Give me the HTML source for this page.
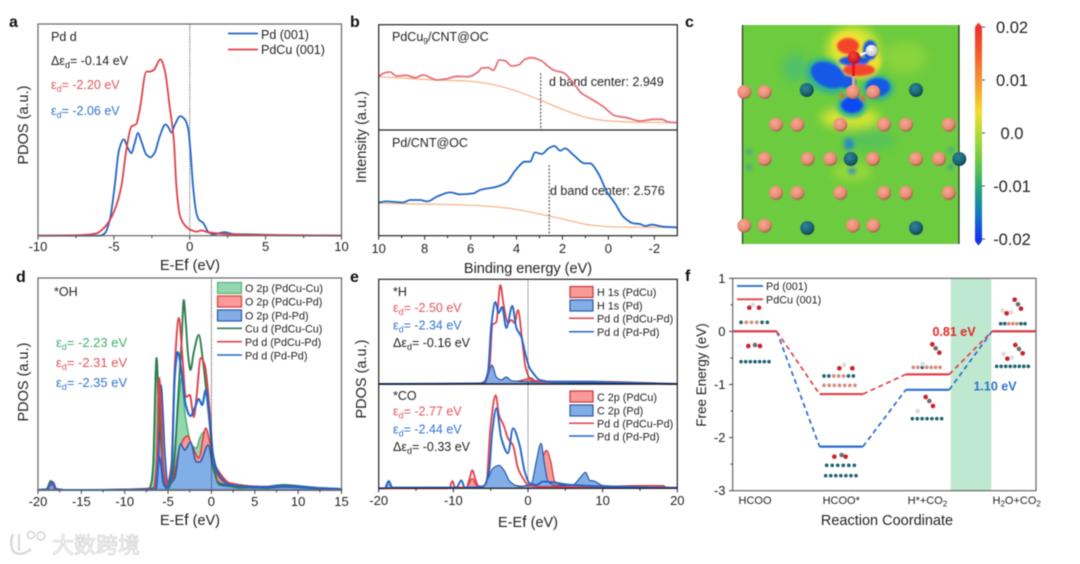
<!DOCTYPE html>
<html lang="en">
<head>
<meta charset="utf-8">
<title>PDOS and free energy figure</title>
<style>
html,body{margin:0;padding:0;background:#fff;width:1080px;height:564px;overflow:hidden}
svg{display:block;filter:blur(.45px)}
text{font-family:"Liberation Sans","Noto Sans CJK SC",sans-serif;fill:#222}
.tick{font-size:13px}
.axis{font-size:14.5px}
.note{font-size:12.5px}
.leg{font-size:10.8px}
.pl{font-size:16px;font-weight:bold;fill:#111}
.r{fill:#e2535a}.b{fill:#2f74cc}.g{fill:#3fae70}
</style>
</head>
<body>
<svg id="figure" width="1080" height="564" viewBox="0 0 1080 564" xmlns="http://www.w3.org/2000/svg">
<defs>
<radialGradient id="pink" cx="40%" cy="35%" r="70%"><stop offset="0" stop-color="#f8a892"/><stop offset=".65" stop-color="#e58a72"/><stop offset="1" stop-color="#8f5a48"/></radialGradient>
<radialGradient id="teal" cx="40%" cy="35%" r="70%"><stop offset="0" stop-color="#2f8596"/><stop offset=".65" stop-color="#1a6273"/><stop offset="1" stop-color="#0c3a48"/></radialGradient>
<radialGradient id="oxy" cx="40%" cy="35%" r="70%"><stop offset="0" stop-color="#ff4040"/><stop offset="1" stop-color="#b80c18"/></radialGradient>
<radialGradient id="hyd" cx="40%" cy="35%" r="70%"><stop offset="0" stop-color="#fff"/><stop offset="1" stop-color="#bbb"/></radialGradient>
<linearGradient id="jet" x1="0" y1="0" x2="0" y2="1">
<stop offset="0" stop-color="#f0302a"/><stop offset=".13" stop-color="#f4602e"/><stop offset=".28" stop-color="#f5a332"/><stop offset=".4" stop-color="#f2dd2e"/><stop offset=".52" stop-color="#a6d83a"/><stop offset=".66" stop-color="#5cc24e"/><stop offset=".78" stop-color="#1f9c86"/><stop offset=".88" stop-color="#1476c8"/><stop offset="1" stop-color="#1030f0"/>
</linearGradient>
<filter id="crisp" x="-30%" y="-30%" width="160%" height="160%"><feGaussianBlur stdDeviation="1"/></filter>
<filter id="soft" x="-40%" y="-40%" width="180%" height="180%"><feGaussianBlur stdDeviation="2.2"/></filter>
<filter id="softer" x="-40%" y="-40%" width="180%" height="180%"><feGaussianBlur stdDeviation="5"/></filter>
<clipPath id="mapclip"><rect x="742" y="25" width="217" height="219"/></clipPath>
</defs>

<g id="panel-a">
<text class="pl" x="9" y="27">a</text>
<text class="axis" transform="translate(28,125) rotate(-90)" text-anchor="middle">PDOS (a.u.)</text>
<text class="axis" x="190" y="270" text-anchor="middle">E-E<tspan font-size="16">f</tspan> (eV)</text>
<text class="note" x="51" y="41">Pd d</text>
<text class="note" x="51" y="65">Δε<tspan font-size="9" dy="3">d</tspan><tspan dy="-3">= -0.14 eV</tspan></text>
<text class="note r" x="51" y="89">ε<tspan font-size="9" dy="3">d</tspan><tspan dy="-3">= -2.20 eV</tspan></text>
<text class="note b" x="51" y="115">ε<tspan font-size="9" dy="3">d</tspan><tspan dy="-3">= -2.06 eV</tspan></text>
<line x1="228" x2="258" y1="33.5" y2="33.5" stroke="#2266c4" stroke-width="1.8"/>
<text class="note" x="261" y="39">Pd (001)</text>
<line x1="228" x2="258" y1="49.5" y2="49.5" stroke="#e04048" stroke-width="1.8"/>
<text class="note" x="261" y="54">PdCu (001)</text>
</g>

<g id="panel-b">
<text class="pl" x="350" y="27">b</text>
<text class="axis" transform="translate(366,137) rotate(-90)" text-anchor="middle">Intensity (a.u.)</text>
<text class="axis" x="528" y="273" text-anchor="middle">Binding energy (eV)</text>
<text class="note" x="392" y="41">PdCu<tspan font-size="8.5" dy="3">9</tspan><tspan dy="-3">/CNT@OC</tspan></text>
<text class="note" x="392" y="147">Pd/CNT@OC</text>
<text class="note" x="549" y="86">d band center: 2.949</text>
<text class="note" x="550" y="195">d band center: 2.576</text>
</g>

<g id="panel-c">
<text class="pl" x="685" y="27">c</text>
<rect x="742" y="25" width="217" height="219" fill="#6ccb3e"/>
<g clip-path="url(#mapclip)">
<g filter="url(#softer)">
<ellipse cx="853" cy="50" rx="26" ry="24" fill="#d8e630"/>
<ellipse cx="850" cy="118" rx="30" ry="10" fill="#d8e632"/>
<ellipse cx="905" cy="58" rx="22" ry="16" fill="#8ad43c"/>
<ellipse cx="852" cy="172" rx="20" ry="9" fill="#9ad83a"/>
<ellipse cx="795" cy="68" rx="12" ry="14" fill="#4fc06a"/>
<ellipse cx="870" cy="140" rx="25" ry="9" fill="#55c25a"/>
</g>
<g filter="url(#soft)">
<ellipse cx="827" cy="76" rx="23" ry="17" transform="rotate(25 827 76)" fill="#34b48c"/>
<ellipse cx="878" cy="88" rx="16" ry="13" fill="#34b48c"/>
<ellipse cx="852" cy="106" rx="15" ry="12" fill="#34b48c"/>
<ellipse cx="860" cy="62" rx="21" ry="16" fill="#f0e030"/>
<ellipse cx="848" cy="44" rx="15" ry="12" fill="#f0e030"/>
<ellipse cx="849" cy="144" rx="5" ry="6" fill="#2a86c8"/>
<ellipse cx="852" cy="171" rx="4" ry="3" fill="#2a86c8"/>
<ellipse cx="749" cy="152" rx="2.5" ry="3" fill="#3a9aa0"/>
<ellipse cx="749" cy="167" rx="2.5" ry="3" fill="#3a9aa0"/>
<ellipse cx="951" cy="150" rx="2.5" ry="3" fill="#3a9aa0"/>
<ellipse cx="951" cy="167" rx="2.5" ry="3" fill="#3a9aa0"/>
</g>
<g filter="url(#crisp)">
<ellipse cx="828" cy="75" rx="18" ry="12" transform="rotate(25 828 75)" fill="#1458e8"/>
<ellipse cx="846" cy="82" rx="10" ry="6" fill="#1458e8"/>
<ellipse cx="878" cy="87" rx="12" ry="9" fill="#1458e8"/>
<ellipse cx="852" cy="105" rx="11" ry="8" fill="#1048f0"/>
<ellipse cx="854" cy="61" rx="15" ry="5" fill="#1458e8"/>
<ellipse cx="870" cy="50" rx="7" ry="10" fill="#1458e8"/>
<ellipse cx="848" cy="46" rx="11" ry="8" fill="#f4452c"/>
<ellipse cx="859" cy="70" rx="16" ry="6" fill="#f4452c"/>
<ellipse cx="842" cy="96" rx="2.2" ry="3" fill="#f0682c"/>
<ellipse cx="863" cy="98" rx="2.2" ry="3" fill="#f0682c"/>
</g>
</g>
<line x1="742.5" x2="742.5" y1="25" y2="244" stroke="#223322" stroke-width="1.2"/>
<line x1="959" x2="959" y1="25" y2="244" stroke="#223322" stroke-width="1.2"/>
<g id="atoms"></g>
<rect x="852" y="62" width="3" height="14" fill="#e01828"/>
<rect x="852" y="76" width="3" height="12" fill="#e8a0a0"/>
<line x1="854" y1="57" x2="871" y2="51" stroke="#fff" stroke-width="2"/>
<circle cx="854" cy="57.5" r="6.3" fill="url(#oxy)"/>
<circle cx="871.5" cy="50.5" r="5.8" fill="url(#hyd)"/>
<rect x="975" y="27" width="7" height="214" fill="url(#jet)"/>
<polygon points="975,27 978.5,22.5 982,27" fill="#f0302a"/>
<polygon points="975,241 978.5,245.5 982,241" fill="#1030f0"/>
<g id="colorbar-ticks"></g>
</g>

<g id="panel-d">
<text class="pl" x="16" y="282">d</text>
<text class="axis" transform="translate(28,382) rotate(-90)" text-anchor="middle">PDOS (a.u.)</text>
<text class="axis" x="190" y="525" text-anchor="middle">E-E<tspan font-size="16">f</tspan> (eV)</text>
<text class="note" x="54" y="296">*OH</text>
<text class="axis g" x="56" y="347" style="font-size:13px">ε<tspan font-size="9" dy="3">d</tspan><tspan dy="-3">= -2.23 eV</tspan></text>
<text class="axis r" x="56" y="367" style="font-size:13px">ε<tspan font-size="9" dy="3">d</tspan><tspan dy="-3">= -2.31 eV</tspan></text>
<text class="axis b" x="56" y="387" style="font-size:13px">ε<tspan font-size="9" dy="3">d</tspan><tspan dy="-3">= -2.35 eV</tspan></text>
<rect x="217.5" y="282.5" width="24" height="11" fill="#93d7ae" stroke="#52b67e" stroke-width="1.2"/>
<rect x="217.5" y="296" width="24" height="11" fill="#f89a9a" stroke="#df3a3a" stroke-width="1.2"/>
<rect x="217.5" y="310" width="24" height="11" fill="#82aee8" stroke="#2a58a8" stroke-width="1.2"/>
<line x1="217" x2="242" y1="328.3" y2="328.3" stroke="#2e7d50" stroke-width="1.6"/>
<line x1="217" x2="242" y1="341.7" y2="341.7" stroke="#e2404a" stroke-width="1.6"/>
<line x1="217" x2="242" y1="355" y2="355" stroke="#2266cc" stroke-width="1.6"/>
<text class="leg" x="245" y="292">O 2p (PdCu-Cu)</text>
<text class="leg" x="245" y="305.5">O 2p (PdCu-Pd)</text>
<text class="leg" x="245" y="319.5">O 2p (Pd-Pd)</text>
<text class="leg" x="245" y="332.5">Cu d (PdCu-Cu)</text>
<text class="leg" x="245" y="346">Pd d (PdCu-Pd)</text>
<text class="leg" x="245" y="359.5">Pd d (Pd-Pd)</text>
</g>

<g id="panel-e">
<text class="pl" x="350" y="282">e</text>
<text class="axis" transform="translate(366,379) rotate(-90)" text-anchor="middle">PDOS (a.u.)</text>
<text class="axis" x="528" y="527" text-anchor="middle">E-E<tspan font-size="16">f</tspan> (eV)</text>
<text class="note" x="393" y="296">*H</text>
<text class="note r" x="393" y="312">ε<tspan font-size="9" dy="3">d</tspan><tspan dy="-3">= -2.50 eV</tspan></text>
<text class="note b" x="393" y="329.5">ε<tspan font-size="9" dy="3">d</tspan><tspan dy="-3">= -2.34 eV</tspan></text>
<text class="note" x="393" y="347">Δε<tspan font-size="9" dy="3">d</tspan><tspan dy="-3">= -0.16 eV</tspan></text>
<text class="note" x="393" y="400">*CO</text>
<text class="note r" x="393" y="415.5">ε<tspan font-size="9" dy="3">d</tspan><tspan dy="-3">= -2.77 eV</tspan></text>
<text class="note b" x="393" y="433.5">ε<tspan font-size="9" dy="3">d</tspan><tspan dy="-3">= -2.44 eV</tspan></text>
<text class="note" x="393" y="451">Δε<tspan font-size="9" dy="3">d</tspan><tspan dy="-3">= -0.33 eV</tspan></text>
<rect x="570" y="286.5" width="23" height="11" fill="#f89a9a" stroke="#c93636" stroke-width="1.2"/>
<rect x="570" y="300" width="23" height="11" fill="#82aee8" stroke="#2a58a8" stroke-width="1.2"/>
<line x1="569" x2="594" y1="318.3" y2="318.3" stroke="#e2404a" stroke-width="1.5"/>
<line x1="569" x2="594" y1="331.7" y2="331.7" stroke="#2266cc" stroke-width="1.5"/>
<rect x="570" y="391" width="23" height="11" fill="#f89a9a" stroke="#c93636" stroke-width="1.2"/>
<rect x="570" y="405" width="23" height="11" fill="#82aee8" stroke="#2a58a8" stroke-width="1.2"/>
<line x1="569" x2="594" y1="423.3" y2="423.3" stroke="#e2404a" stroke-width="1.5"/>
<line x1="569" x2="594" y1="436" y2="436" stroke="#2266cc" stroke-width="1.5"/>
<text class="leg" x="597" y="296">H 1s (PdCu)</text>
<text class="leg" x="597" y="309.5">H 1s (Pd)</text>
<text class="leg" x="597" y="322.5">Pd d (PdCu-Pd)</text>
<text class="leg" x="597" y="336">Pd d (Pd-Pd)</text>
<text class="leg" x="597" y="401">C 2p (PdCu)</text>
<text class="leg" x="597" y="414.5">C 2p (Pd)</text>
<text class="leg" x="597" y="427.5">Pd d (PdCu-Pd)</text>
<text class="leg" x="597" y="440.5">Pd d (Pd-Pd)</text>
</g>

<g id="panel-f">
<text class="pl" x="685" y="281">f</text>
<rect x="950.7" y="278.5" width="40.6" height="212" fill="#bfe8d0"/>
<text class="axis" transform="translate(706,375) rotate(-90)" text-anchor="middle" style="font-size:13.5px">Free Energy (eV)</text>
<text class="axis" x="887" y="525" text-anchor="middle">Reaction Coordinate</text>
<line x1="737" x2="763" y1="286" y2="286" stroke="#2266cc" stroke-width="1.8"/>
<line x1="737" x2="763" y1="299.3" y2="299.3" stroke="#e2404a" stroke-width="1.8"/>
<text class="leg" x="766" y="290">Pd (001)</text>
<text class="leg" x="766" y="303.5">PdCu (001)</text>
<text x="954" y="336" text-anchor="middle" font-size="12.5" font-weight="bold" style="fill:#e0272c">0.81 eV</text>
<text x="995" y="390.5" text-anchor="middle" font-size="12.5" font-weight="bold" style="fill:#2f74cc">1.10 eV</text>
<g id="molecules" transform="translate(680,265) scale(.33333)"></g>
</g>

<g id="watermark">
<path d="M13 534 Q9 545 14 552 Q22 557 31 549" fill="none" stroke="#d8d8d8" stroke-width="2.4"/>
<path d="M19 534 L19 551" fill="none" stroke="#d8d8d8" stroke-width="2"/>
<circle cx="31" cy="535" r="3.6" fill="none" stroke="#d2d2d2" stroke-width="1.4"/>
<circle cx="41" cy="536" r="4" fill="none" stroke="#d2d2d2" stroke-width="1.4"/>
<text x="52" y="553" font-size="22" style="fill:#fbfbfb;stroke:#cfcfcf;stroke-width:.7">大数跨境</text>
</g>

<g id="marks"></g>
</svg>

<script>
// ---------- panel a ----------
const aTicks = [-10, -5, 0, 5, 10];
const aPdE = [-10,-5.93,-5.6,-5.27,-4.95,-4.66,-4.35,-4.07,-3.85,-3.63,-3.41,-3.19,-2.86,-2.59,-2.31,-1.98,-1.6,-1.43,-1.21,-.99,-.62,-.33,-.11,.04,.22,.44,.62,.88,1.21,1.54,2.31,2.86,4.18,6.15,10];
const aPdV = [0,0,1.1,7.4,23.2,40.5,45.5,41.3,39,43.7,48.5,44.6,38.3,37,39.2,46.9,52.6,51.5,48.7,52.3,56.5,55,50.7,40.5,23.2,10.6,7.4,6.1,1.9,.6,1.7,.8,.6,.2,0];
const aCuE = [-10,-7.03,-6.15,-5.49,-4.95,-4.51,-4.18,-3.85,-3.52,-3.3,-2.86,-2.64,-2.37,-1.93,-1.65,-1.32,-1.05,-.88,-.66,-.33,0,.44,.77,1.21,2.86,10];
const aCuV = [0,.3,1.1,5,12.1,23.2,40.5,51.5,52.8,59.4,77.5,77.5,78.3,83.3,78.3,60.9,45.2,23.2,9.8,5,3,1.9,2.5,1.6,.6,.1];

// ---------- panel b ----------
const bTicks = [10, 8, 6, 4, 2, 0, -2];
const bCenters = [2.949, 2.576];
const bCenterTops = [56.7, 70.7];
const bTopE = [10,9.8,9.51,9.22,8.78,8.42,8.06,7.69,7.47,7.04,6.6,6.1,5.66,5.52,5.23,5.01,4.75,4.5,4.21,3.92,3.63,3.34,2.9,2.61,2.32,1.96,1.52,1.16,.8,.22,-.29,-.8,-1.38,-1.96,-2.32,-2.61,-3];
const bTopV = [53.3,56.7,58,54,54.7,52.3,55,51.7,50,51.3,53.7,53.3,58.3,62,62.3,59.7,70,69.3,64,65,70.7,72.3,69,63.3,59.3,57.3,46.7,36.7,31.7,23.3,14.3,12.3,9,10.7,10.7,8,7.3];
const bTopBgE = [10,8.78,7.55,6.17,5.15,4.14,2.98,1.81,.8,-.22,-1.38,-3];
const bTopBgV = [53.3,51.7,50,49,46,40,30,19,11.7,8.7,7.7,7.3];
const bBotE = [10,9.65,9.29,8.93,8.64,8.2,7.88,7.47,6.89,6.46,5.88,5.59,4.86,4.43,4.06,3.63,3.41,3.19,2.9,2.61,2.35,2.1,1.89,1.52,1.02,.8,.44,.07,-.29,-.65,-1.09,-1.38,-1.6,-1.89,-2.39,-3];
const bBotV = [33.3,34.3,33.7,33.3,35.7,35.7,34.3,39,43.3,41.3,42.3,45.7,49,53.3,65,74,74,83.3,81.7,87.3,89.7,85,87.3,80.7,72.3,72.3,62.3,44,32.3,19,12.3,11.7,9.7,11,9,8.3];
const bBotBgE = [10,7.33,5.88,4.43,2.98,1.81,.8,-.36,-3];
const bBotBgV = [32.3,31.3,30.3,27.7,21.7,15.7,10.7,8.7,8.3];

// ---------- panel c colorbar ----------
const cbarLabels = ['0.02', '0.01', '0.0', '-0.01', '-0.02'];
const cbarValues = [0.02, 0.01, 0, -0.01, -0.02];

// ---------- panel d ----------
const dTicks = [-20, -15, -10, -5, 0, 5, 10, 15];
const dO2pCuE = [-20,-19,-18.54,-18.04,-17,-7.29,-6.91,-6.72,-6.33,-6.1,-5.9,-5.57,-4.99,-4.41,-3.84,-3.45,-3.07,-2.69,-2.3,-1.73,-1.34,-.88,-.38,.19,.96,6.33,8.25,12.1,15];
const dO2pCuV = [0,1,9,1.5,0,0,7,22,132,90,58,12,2,25,82,112,78,58,45,42,52,58,45,25,8,3,5,2,.5];
const dO2pPdCuE = [-20,-19,-18.5,-18,-17,-6.72,-6.33,-6.03,-5.8,-5.57,-5.18,-4.41,-3.65,-2.8,-2.11,-1.46,-.65,-.12,.58,1.73,6.33,8.25,12.1,15];
const dO2pPdCuV = [0,1,7,1.5,0,1.7,25,112,92,38,7,12,43,54,42,32,62,45,17,7,3,4,2,.5];
const dO2pPdE = [-20,-19,-18.3,-17.9,-17,-6.53,-6.14,-5.8,-5.57,-5.37,-4.99,-4.22,-3.57,-3.07,-2.42,-1.73,-1.34,-.38,.19,.96,6.33,8.25,12.1,15];
const dO2pPdV = [0,.5,7,1,0,1.7,25,105,75,38,5,12,46,40,48,28,28,45,22,5,2,3,1.5,.5];
const dCuDE = [-20,-19,-18.54,-18.04,-17,-7.29,-6.91,-6.72,-6.33,-6.1,-5.83,-5.37,-4.99,-4.41,-3.84,-3.45,-3.19,-2.96,-2.69,-2.42,-2.03,-1.46,-.96,-.58,-.19,.19,.77,1.73,3.26,6.33,8.25,12.1,14.93];
const dCuDV = [0,1,9,1.5,0,0,8,25,132,92,52,8,2,18,92,148,190,168,135,120,138,155,128,98,65,28,8,5,2.3,3.3,5,2.3,1];
const dPdCuDE = [-20,-19,-18.5,-18,-17,-6.53,-6.26,-6.03,-5.8,-5.57,-5.18,-4.61,-4.22,-3.76,-3.34,-2.96,-2.5,-2.03,-1.73,-1.23,-.77,-.19,.19,.96,2.11,6.33,8.25,12.1,15];
const dPdCuDV = [0,.5,7,1,0,1,38,112,75,25,5,25,125,172,132,93,95,73,92,132,125,78,32,17,7,3.3,4,2,.5];
const dPdDE = [-20,-19,-18.3,-17.9,-17,-6.41,-6.03,-5.8,-5.57,-5.18,-4.61,-4.22,-3.88,-3.45,-2.96,-2.42,-1.92,-1.46,-1.07,-.65,-.19,.19,.77,2.11,6.33,8.25,12.1,15];
const dPdDV = [0,.5,8,1,0,.5,33,25,8,2,18,115,138,118,85,74,82,91,85,100,68,35,17,5,3,4,2,1];

// ---------- panel e ----------
const eTicks = [-20, -10, 0, 10, 20];
const eHPdCuE = [-20,-6.47,-5.58,-5.13,-4.78,-4.24,-3.71,-3.26,-2.68,-2.23,-1.79,-1.34,-.76,-.31,.45,2.46,8.71,20];
const eHPdCuV = [0,.7,4,19,59,62,99,79,61,64,61,74,42,16,4,2.3,2.3,0];
const eHPdE = [-20,-6.03,-5.36,-4.91,-4.38,-3.93,-3.48,-2.9,-2.1,-1.56,-.89,-.31,.22,.67,1.56,3.35,8.71,10.5,20];
const eHPdV = [0,.7,12,59,82,71,77,56,78,56,47,29,16,11,4,2.3,2.3,1.7,0];
const eH1sCuE = [-20,-5.8,-5.13,-4.69,-4.15,-3.35,-2.01,-.67,.45,1.12,20];
const eH1sCuV = [0,.7,7,14,4,3.3,2.3,4,6,2.3,0];
const eH1sPdE = [-20,-5.8,-5.27,-4.82,-4.24,-3.57,-2.9,-2.23,-.22,20];
const eH1sPdV = [0,.7,11,19,7,4,7,3.3,2.3,0];
const eCOPdCuE = [-20,-10.94,-10.49,-10.13,-9.78,-8.26,-7.81,-7.46,-7.01,-6.56,-5.58,-5.04,-4.33,-3.88,-3.26,-2.68,-2.01,-1.34,-.67,0,1.56,20];
const eCOPdCuV = [0,0,.7,7.3,1,.7,10,18,8,.7,5,60,93,73,63,50,43,20,10,3.3,1.7,.7];
const eCOPdE = [-20,-19.2,-18.66,-18.17,-9.6,-8.93,-8.48,-6.03,-5.22,-4.78,-4.24,-3.57,-2.68,-2.01,-1.12,-.45,.22,1.12,2.01,6.03,10.5,20];
const eCOPdV = [0,0,7.3,.7,.7,8,.7,1.7,17,57,80,50,35,60,43,17,5,3.3,6.7,3.3,1.7,.3];
const eC2pCuE = [-20,-8.26,-7.46,-6.92,-6.03,-5.13,-3.79,-2.9,-.67,.45,1.12,1.79,2.46,3.04,3.57,4.24,5.58,10.49,14.96,18.08,18.75,20];
const eC2pCuV = [0,.7,10,3.3,2,10,8,5,2,3.3,10,27,38,27,7,4,2.7,2,2.7,2.7,0,0];
const eC2pPdE = [-20,-19.2,-18.66,-18.17,-6.03,-5.36,-4.69,-3.88,-3.13,-2.46,-1.12,.45,1.12,1.74,2.23,2.68,3.79,6.03,6.92,7.72,8.26,8.93,10.04,20];
const eC2pPdV = [0,0,7.3,.7,1.3,10,20,23,17,7,1.7,5,27,45,23,7,2.7,3.3,10,16,8,7,2.7,.7];

// ---------- panel f ----------
const fCategories = ['HCOO', 'HCOO*', 'H*+CO', 'H'];
const fTicks = [1, 0, -1, -2, -3];
const fPd = [0, -2.17, -1.1, 0];
const fPdCu = [0, -1.18, -0.81, 0];

// ---------- helpers ----------
const NS = 'http://www.w3.org/2000/svg';
const marks = document.getElementById('marks');
function linear(d0, d1, r0, r1) { return v => r0 + (v - d0) / (d1 - d0) * (r1 - r0); }
function make(tag, attrs, parent) {
  const el = document.createElementNS(NS, tag);
  for (const k in attrs) el.setAttribute(k, attrs[k]);
  (parent || marks).appendChild(el);
  return el;
}
// monotone cubic path so sparse stretches never overshoot
function curve(es, vs, sx, sy) {
  const p = es.map((e, i) => [sx(e), sy(vs[i])]);
  const n = p.length, h = [], s = [], m = [];
  for (let i = 0; i < n - 1; i++) {
    h[i] = p[i + 1][0] - p[i][0];
    s[i] = (p[i + 1][1] - p[i][1]) / h[i];
  }
  m[0] = s[0];
  m[n - 1] = s[n - 2];
  for (let i = 1; i < n - 1; i++) {
    if (s[i - 1] * s[i] <= 0) m[i] = 0;
    else {
      const w1 = 2 * h[i] + h[i - 1], w2 = h[i] + 2 * h[i - 1];
      m[i] = (w1 + w2) / (w1 / s[i - 1] + w2 / s[i]);
    }
  }
  let d = 'M' + p[0][0].toFixed(2) + ' ' + p[0][1].toFixed(2);
  for (let i = 0; i < n - 1; i++) {
    const t = h[i] / 3;
    d += 'C' + (p[i][0] + t).toFixed(2) + ' ' + (p[i][1] + m[i] * t).toFixed(2) + ' ' + (p[i + 1][0] - t).toFixed(2) + ' ' + (p[i + 1][1] - m[i + 1] * t).toFixed(2) + ' ' + p[i + 1][0].toFixed(2) + ' ' + p[i + 1][1].toFixed(2);
  }
  return d;
}
function series(name, es, vs, sx, sy, color, width) {
  const el = make('path', { d: curve(es, vs, sx, sy), fill: 'none', stroke: color, 'stroke-width': width, 'stroke-linejoin': 'round' });
  
  
}
function area(name, es, vs, sx, sy, fill, stroke, width) {
  const base = sy(0);
  const d = curve(es, vs, sx, sy) + 'L' + sx(es[es.length - 1]).toFixed(2) + ' ' + base + 'L' + sx(es[0]).toFixed(2) + ' ' + base + 'Z';
  const el = make('path', { d: d, fill: fill, stroke: stroke, 'stroke-width': width, 'stroke-linejoin': 'round' });
  
  
}
function frame(name, x0, y0, x1, y1, color) {
  const el = make('rect', { x: x0, y: y0, width: x1 - x0, height: y1 - y0, fill: 'none', stroke: color, 'stroke-width': 1.2 });
  
  
}
function hRule(name, x0, x1, y, color) {
  const el = make('line', { x1: x0, x2: x1, y1: y, y2: y, stroke: color, 'stroke-width': 1.2 });
  
  
}
function zeroLine(name, x, y0, y1, color, dash, width) {
  const el = make('line', { x1: x, x2: x, y1: y0, y2: y1, stroke: color, 'stroke-width': width, 'stroke-dasharray': dash });
  
  
}
function xAxis(name, ticks, sx, y, color, labelY) {
  ticks.forEach((t, i) => {
    const tl = make('line', { x1: sx(t), x2: sx(t), y1: y, y2: y + 4, stroke: color, 'stroke-width': 1 });
    
    
    const lab = make('text', { x: sx(t), y: labelY, 'text-anchor': 'middle', class: 'tick' });
    
    
    lab.textContent = String(t);
    if (i < ticks.length - 1) {
      const m = (t + ticks[i + 1]) / 2;
      const ml = make('line', { x1: sx(m), x2: sx(m), y1: y, y2: y + 2.5, stroke: color, 'stroke-width': 1 });
      
      
    }
  });
}

// ---------- panel a drawing ----------
const ax = linear(-10, 10, 38, 341.5), ay = linear(0, 100, 235.7, 24);
zeroLine('fermi-line-a', ax(0), 24, 235.7, '#555', '1.2 1.2', 1);
series('series-pd-001', aPdE, aPdV, ax, ay, '#2266c4', 1.8);
series('series-pdcu-001', aCuE, aCuV, ax, ay, '#e04048', 1.8);
frame('plot-frame-a', 38, 24, 341.5, 235.7, '#666');
xAxis('x-axis-a', aTicks, ax, 235.7, '#444', 251);

// ---------- panel b drawing ----------
const bx = linear(10, -3, 378.7, 677.3);
const bTopY = linear(0, 105, 130, 25), bBotY = linear(0, 106, 235.7, 129.7);
series('background-pdcu', bTopBgE, bTopBgV, bx, bTopY, '#f6b78e', 1.3);
series('spectrum-pdcu', bTopE, bTopV, bx, bTopY, '#e6717a', 1.8);
series('background-pd', bBotBgE, bBotBgV, bx, bBotY, '#f6b78e', 1.3);
series('spectrum-pd', bBotE, bBotV, bx, bBotY, '#2266c4', 1.8);
zeroLine('d-band-center-line-pdcu', bx(bCenters[0]), bTopY(bCenterTops[0]), bTopY(0), '#555', '2 1.5', 1.2);
zeroLine('d-band-center-line-pd', bx(bCenters[1]), bBotY(bCenterTops[1]), bBotY(0), '#555', '2 1.5', 1.2);
frame('plot-frame-b', 378.7, 24.7, 677.3, 235.7, '#222');
hRule('panel-divider-b', 378.7, 677.3, 130, '#222');
xAxis('x-axis-b', bTicks, bx, 235.7, '#222', 253);

// ---------- panel c extras ----------
const atomGroup = document.getElementById('atoms');
const pinkRows = [[92, [744.3, 764.7, 853, 873.3]], [124.7, [776, 797.3, 840.3, 884, 906, 948.7]], [159, [764.7, 807.7, 830.3, 873, 916, 939]], [193, [776, 797.3, 840.3, 884, 906, 948.7]], [225.7, [744.3, 764.7, 853, 873.3]]];
const tealAtoms = [[806.7, 90], [916, 90], [850.7, 159], [959.3, 159], [807.3, 228], [916, 228]];
pinkRows.forEach(row => row[1].forEach(x => {
  const c = make('circle', { cx: x, cy: row[0], r: 7, fill: 'url(#pink)' }, atomGroup);
  
  
}));
tealAtoms.forEach(p => {
  const c = make('circle', { cx: p[0], cy: p[1], r: 7, fill: 'url(#teal)' }, atomGroup);
  
  
});
const cbarY = linear(0.02, -0.02, 27, 239), cbarTicks = document.getElementById('colorbar-ticks');
cbarValues.forEach((v, i) => {
  const t = make('line', { x1: 982, x2: 985, y1: cbarY(v), y2: cbarY(v), stroke: '#555', 'stroke-width': 1 }, cbarTicks);
  
  
  const lab = make('text', { x: 1012, y: cbarY(v) + 6, 'text-anchor': 'middle', 'font-size': 16.5 }, cbarTicks);
  
  
  lab.textContent = cbarLabels[i];
});

// ---------- panel d drawing ----------
const dx = linear(-20, 15, 38, 341.5), dy = linear(0, 212, 490, 278);
area('fill-o2p-pdcu-cu', dO2pCuE, dO2pCuV, dx, dy, '#93d7ae', '#52b67e', 1.6);
area('fill-o2p-pdcu-pd', dO2pPdCuE, dO2pPdCuV, dx, dy, '#f89a9a', '#df3a3a', 1.5);
area('fill-o2p-pd-pd', dO2pPdE, dO2pPdV, dx, dy, '#82aee8', '#2a58a8', 1.5);
series('line-cu-d', dCuDE, dCuDV, dx, dy, '#2e7d50', 1.9);
series('line-pd-d-pdcu', dPdCuDE, dPdCuDV, dx, dy, '#e2404a', 1.9);
series('line-pd-d-pd', dPdDE, dPdDV, dx, dy, '#2266cc', 2.1);
zeroLine('fermi-line-d', dx(0), 278, 490, '#222', '1 1.2', 1);
frame('plot-frame-d', 38, 278, 341.5, 490, '#666');
xAxis('x-axis-d', dTicks, dx, 490, '#444', 506);

// ---------- panel e drawing ----------
const ex = linear(-20, 20, 378.7, 677.3);
const eTopY = linear(0, 105, 384, 279), eBotY = linear(0, 105, 488.3, 383.3);
area('fill-h1s-pdcu', eH1sCuE, eH1sCuV, ex, eTopY, '#f89a9a', '#c93636', 1.2);
area('fill-h1s-pd', eH1sPdE, eH1sPdV, ex, eTopY, '#82aee8', '#2a58a8', 1.2);
series('line-h-pd-d-pdcu', eHPdCuE, eHPdCuV, ex, eTopY, '#e2404a', 1.8);
series('line-h-pd-d-pd', eHPdE, eHPdV, ex, eTopY, '#2266cc', 1.9);
area('fill-c2p-pdcu', eC2pCuE, eC2pCuV, ex, eBotY, '#f89a9a', '#c93636', 1.2);
area('fill-c2p-pd', eC2pPdE, eC2pPdV, ex, eBotY, '#82aee8', '#2a58a8', 1.2);
series('line-co-pd-d-pdcu', eCOPdCuE, eCOPdCuV, ex, eBotY, '#e2404a', 1.8);
series('line-co-pd-d-pd', eCOPdE, eCOPdV, ex, eBotY, '#2266cc', 1.9);
zeroLine('fermi-line-e', ex(0), 279.3, 488.3, '#444', '1 1.2', 1);
frame('plot-frame-e', 378.7, 279.3, 677.3, 488.3, '#222');
hRule('panel-divider-e', 378.7, 677.3, 384, '#111');
xAxis('x-axis-e', eTicks, ex, 488.3, '#222', 505);

// ---------- panel f drawing ----------
const fx = linear(0, 3, 755, 1013.7), fy = linear(1, -3, 278.3, 490.7), fHalf = 21.7;
function levels(prefix, values, color) {
  values.forEach((v, i) => {
    if (i < values.length - 1) {
      const c = make('line', { x1: fx(i) + fHalf, y1: fy(v), x2: fx(i + 1) - fHalf, y2: fy(values[i + 1]), stroke: color, 'stroke-width': 1.7, 'stroke-dasharray': '5 3.5' });
      
      
    }
  });
  values.forEach((v, i) => {
    const l = make('line', { x1: fx(i) - fHalf, x2: fx(i) + fHalf, y1: fy(v), y2: fy(v), stroke: color, 'stroke-width': 2.2 });
    
    
  });
}
levels('pd', fPd, '#2a6ccb');
levels('pdcu', fPdCu, '#e2404a');
frame('plot-frame-f', 732.7, 278.3, 1036, 490.7, '#666');
fTicks.forEach((t, i) => {
  const tl = make('line', { x1: 729, x2: 732.7, y1: fy(t), y2: fy(t), stroke: '#444', 'stroke-width': 1 });
  
  
  const lab = make('text', { x: 725.5, y: fy(t) + 4.5, 'text-anchor': 'end', class: 'tick' });
  
  
  lab.textContent = String(t);
  if (i < fTicks.length - 1) {
    const ml = make('line', { x1: 730.5, x2: 732.7, y1: fy(t - .5), y2: fy(t - .5), stroke: '#444', 'stroke-width': 1 });
    
    
  }
});
fCategories.forEach((c, i) => {
  const lab = make('text', { x: fx(i) + (i === 3 ? 3 : 0), y: 504, 'text-anchor': 'middle', 'font-size': 11 });
  
  
  lab.textContent = c;
  if (i === 2) {
    const s = make('tspan', { 'font-size': 8, dy: 2.5 }, lab);
    s.textContent = '2';
  }
  if (i === 3) {
    const s1 = make('tspan', { 'font-size': 8, dy: 2.5 }, lab);
    s1.textContent = '2';
    const m = make('tspan', { dy: -2.5 }, lab);
    m.textContent = 'O+CO';
    const s2 = make('tspan', { 'font-size': 8, dy: 2.5 }, lab);
    s2.textContent = '2';
  }
});

// ---------- panel f structure sketches ----------
const mol = document.getElementById('molecules');
const slabRows = [
  [172, 183, 262, 6, 'tpppt'], [290, 183, 267, 7, 't'],
  [333, 432, 520, 7, 'ttpppt'], [361, 432, 525, 7, 'p'],
  [601, 440, 523, 6, 't'], [632, 437, 528, 7, 't'],
  [307, 700, 780, 7, 'pptpp'], [461, 697, 785, 7, 't'],
  [176, 962, 1035, 7, 'ttppp'], [304, 950, 1045, 8, 't']
];
const molAtoms = [
  [208,128,'r'],[237,128,'r'],[218,120,'w'],[205,243,'r'],[240,243,'r'],[225,240,'g'],
  [478,310,'r'],[517,310,'r'],[492,300,'w'],[463,575,'r'],[497,575,'r'],[485,570,'g'],
  [757,238,'r'],[767,250,'g'],[778,263,'r'],[728,298,'w'],
  [737,396,'r'],[748,408,'g'],[759,423,'r'],[713,438,'w'],
  [1004,104,'r'],[1014,118,'g'],[1023,131,'r'],[968,137,'w'],[980,145,'r'],[993,142,'w'],
  [1006,240,'r'],[1017,252,'g'],[1028,265,'r'],[970,267,'w'],[982,281,'r'],[995,278,'w']
];
const tone = { t: '#1f6470', p: '#d08c78', r: '#c8242c', g: '#707070', w: '#dddddd' };
slabRows.forEach(r => {
  for (let i = 0; i < r[3]; i++) {
    const k = r[4][i % r[4].length];
    const c = make('circle', { cx: r[1] + (r[2] - r[1]) * i / (r[3] - 1), cy: r[0], r: 5.5, fill: tone[k] }, mol);
    
    
  }
});
molAtoms.forEach(a => {
  const c = make('circle', { cx: a[0], cy: a[1], r: 7, fill: tone[a[2]] }, mol);
  
  
});
</script>
</body>
</html>
